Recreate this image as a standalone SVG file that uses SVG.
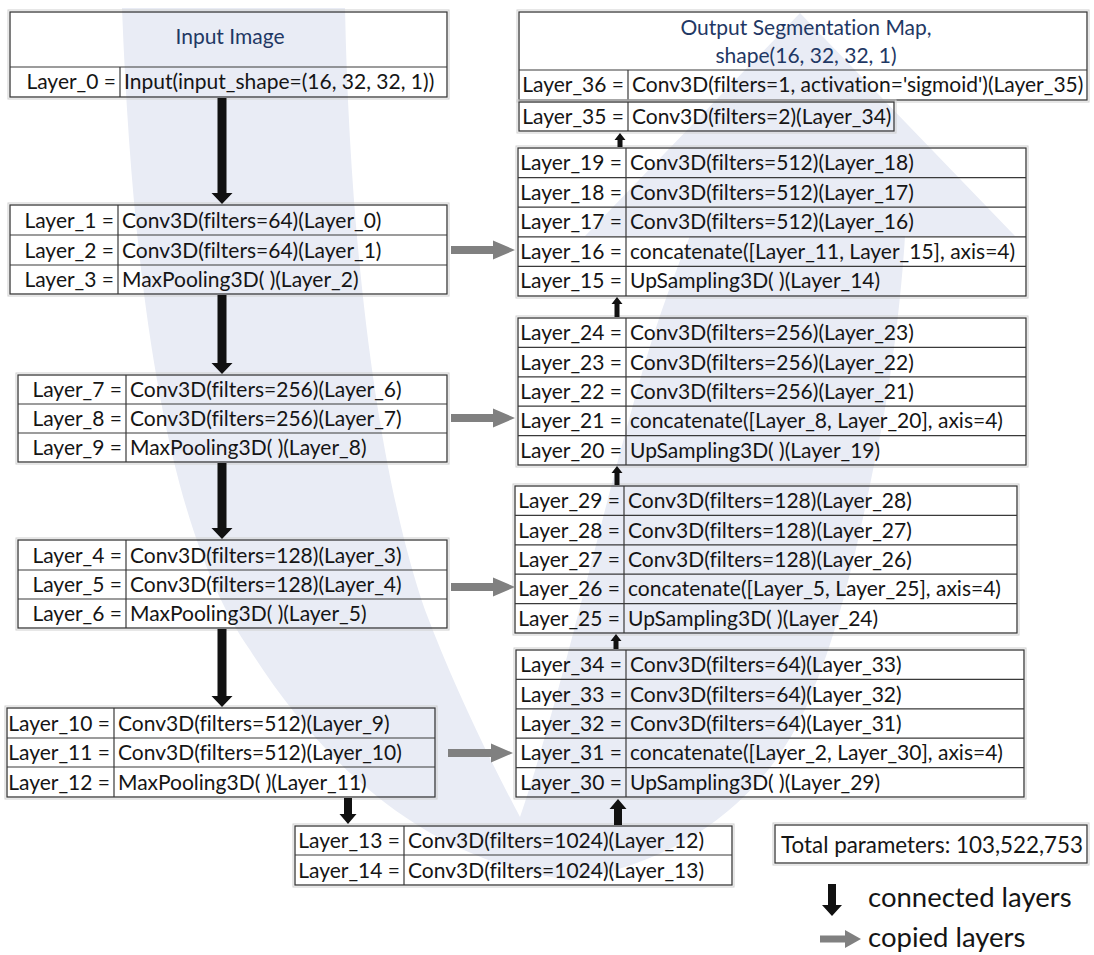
<svg xmlns="http://www.w3.org/2000/svg" width="1094" height="955" viewBox="0 0 1094 955">
<style>
text{font-variant-ligatures:none}
.t{font-family:Lato,"Open Sans","DejaVu Sans",sans-serif;font-size:21px;fill:#151515}
.l{text-anchor:end}
.h{font-family:Lato,"Open Sans","DejaVu Sans",sans-serif;font-size:21px;fill:#1f3864;text-anchor:middle}
.big{font-size:27.5px}
.box{fill:none;stroke:#3a3a3a;stroke-width:1.3}
.grid{fill:none;stroke:#cfcfcf;stroke-width:1}
.ln{stroke:#3a3a3a;stroke-width:1.2}
.blk{fill:#111}
.gry{fill:#808080}
</style>
<rect width="1094" height="955" fill="#ffffff"/>
<path id="u-shape" d="M122,8 L345,8 C350,260 380,480 425,610 C455,690 495,770 520,817 C560,700 600,520 640,380 C660,310 680,260 690,236 L585,236 L800,13 L1015,236 L905,236 C900,320 885,420 873,470 C855,560 835,640 813,690 C780,780 700,860 570,880 C420,860 320,760 250,650 C180,550 135,350 122,8 Z" fill="#e9ecf5"/>

<g id="input">
<rect class="grid" x="8" y="10" width="441" height="89"/>
<rect class="box" x="10" y="12" width="437" height="85"/>
<line class="ln" x1="10" y1="67" x2="447" y2="67"/>
<line class="ln" x1="120" y1="67" x2="120" y2="97"/>
<text class="h" x="230" y="44">Input Image</text>
<text class="t l" x="116" y="89">Layer_0 =</text>
<text class="t" x="124" y="89">Input(input_shape=(16, 32, 32, 1))</text>
</g>

<g id="enc1">
<rect class="grid" x="8" y="203" width="441" height="93"/>
<rect class="box" x="10" y="205" width="437" height="89"/>
<line class="ln" x1="10" y1="235" x2="447" y2="235"/>
<line class="ln" x1="10" y1="265" x2="447" y2="265"/>
<line class="ln" x1="118" y1="205" x2="118" y2="294"/>
<text class="t l" x="114" y="228">Layer_1 =</text><text class="t" x="122" y="228">Conv3D(filters=64)(Layer_0)</text>
<text class="t l" x="114" y="258">Layer_2 =</text><text class="t" x="122" y="258">Conv3D(filters=64)(Layer_1)</text>
<text class="t l" x="114" y="287">Layer_3 =</text><text class="t" x="122" y="287">MaxPooling3D( )(Layer_2)</text>
</g>

<g id="enc3">
<rect class="grid" x="16" y="373" width="433" height="91"/>
<rect class="box" x="18" y="375" width="429" height="87"/>
<line class="ln" x1="18" y1="404" x2="447" y2="404"/>
<line class="ln" x1="18" y1="433" x2="447" y2="433"/>
<line class="ln" x1="126" y1="375" x2="126" y2="462"/>
<text class="t l" x="122" y="397">Layer_7 =</text><text class="t" x="130" y="397">Conv3D(filters=256)(Layer_6)</text>
<text class="t l" x="122" y="426">Layer_8 =</text><text class="t" x="130" y="426">Conv3D(filters=256)(Layer_7)</text>
<text class="t l" x="122" y="455">Layer_9 =</text><text class="t" x="130" y="455">MaxPooling3D( )(Layer_8)</text>
</g>

<g id="enc2">
<rect class="grid" x="16" y="538" width="433" height="92"/>
<rect class="box" x="18" y="540" width="429" height="88"/>
<line class="ln" x1="18" y1="570" x2="447" y2="570"/>
<line class="ln" x1="18" y1="599" x2="447" y2="599"/>
<line class="ln" x1="126" y1="540" x2="126" y2="628"/>
<text class="t l" x="122" y="563">Layer_4 =</text><text class="t" x="130" y="563">Conv3D(filters=128)(Layer_3)</text>
<text class="t l" x="122" y="592">Layer_5 =</text><text class="t" x="130" y="592">Conv3D(filters=128)(Layer_4)</text>
<text class="t l" x="122" y="621">Layer_6 =</text><text class="t" x="130" y="621">MaxPooling3D( )(Layer_5)</text>
</g>

<g id="enc4">
<rect class="grid" x="5" y="706" width="432" height="93"/>
<rect class="box" x="7" y="708" width="428" height="89"/>
<line class="ln" x1="7" y1="738" x2="435" y2="738"/>
<line class="ln" x1="7" y1="767" x2="435" y2="767"/>
<line class="ln" x1="114" y1="708" x2="114" y2="797"/>
<text class="t l" x="110" y="731">Layer_10 =</text><text class="t" x="118" y="731">Conv3D(filters=512)(Layer_9)</text>
<text class="t l" x="110" y="760">Layer_11 =</text><text class="t" x="118" y="760">Conv3D(filters=512)(Layer_10)</text>
<text class="t l" x="110" y="790">Layer_12 =</text><text class="t" x="118" y="790">MaxPooling3D( )(Layer_11)</text>
</g>

<g id="bottleneck">
<rect class="grid" x="293" y="824" width="441" height="63"/>
<rect class="box" x="295" y="826" width="437" height="59"/>
<line class="ln" x1="295" y1="855" x2="732" y2="855"/>
<line class="ln" x1="404" y1="826" x2="404" y2="885"/>
<text class="t l" x="400" y="848">Layer_13 =</text><text class="t" x="408" y="848">Conv3D(filters=1024)(Layer_12)</text>
<text class="t l" x="400" y="878">Layer_14 =</text><text class="t" x="408" y="878">Conv3D(filters=1024)(Layer_13)</text>
</g>

<g id="output">
<rect class="grid" x="517" y="10" width="572" height="92"/>
<rect class="box" x="519" y="12" width="568" height="88"/>
<line class="ln" x1="519" y1="70" x2="1087" y2="70"/>
<line class="ln" x1="628" y1="70" x2="628" y2="100"/>
<text class="h" x="806" y="35">Output Segmentation Map,</text>
<text class="h" x="806" y="63">shape(16, 32, 32, 1)</text>
<text class="t l" x="624" y="92">Layer_36 =</text><text class="t" x="632" y="92">Conv3D(filters=1, activation='sigmoid')(Layer_35)</text>
</g>

<g id="layer35">
<rect class="grid" x="517" y="100" width="379" height="33"/>
<rect class="box" x="519" y="102" width="375" height="29"/>
<line class="ln" x1="628" y1="102" x2="628" y2="131"/>
<text class="t l" x="624" y="124">Layer_35 =</text><text class="t" x="632" y="124">Conv3D(filters=2)(Layer_34)</text>
</g>

<g id="dec1">
<rect class="grid" x="516" y="146" width="512" height="152"/>
<rect class="box" x="518" y="148" width="508" height="148"/>
<line class="ln" x1="518" y1="177.6" x2="1026" y2="177.6"/>
<line class="ln" x1="518" y1="207.2" x2="1026" y2="207.2"/>
<line class="ln" x1="518" y1="236.8" x2="1026" y2="236.8"/>
<line class="ln" x1="518" y1="266.4" x2="1026" y2="266.4"/>
<line class="ln" x1="626" y1="148" x2="626" y2="296"/>
<text class="t l" x="622" y="170">Layer_19 =</text><text class="t" x="630" y="170">Conv3D(filters=512)(Layer_18)</text>
<text class="t l" x="622" y="200">Layer_18 =</text><text class="t" x="630" y="200">Conv3D(filters=512)(Layer_17)</text>
<text class="t l" x="622" y="229">Layer_17 =</text><text class="t" x="630" y="229">Conv3D(filters=512)(Layer_16)</text>
<text class="t l" x="622" y="259">Layer_16 =</text><text class="t" x="630" y="259">concatenate([Layer_11, Layer_15], axis=4)</text>
<text class="t l" x="622" y="288">Layer_15 =</text><text class="t" x="630" y="288">UpSampling3D( )(Layer_14)</text>
</g>

<g id="dec2">
<rect class="grid" x="516" y="316" width="512" height="151"/>
<rect class="box" x="518" y="318" width="508" height="147"/>
<line class="ln" x1="518" y1="347.4" x2="1026" y2="347.4"/>
<line class="ln" x1="518" y1="376.8" x2="1026" y2="376.8"/>
<line class="ln" x1="518" y1="406.2" x2="1026" y2="406.2"/>
<line class="ln" x1="518" y1="435.6" x2="1026" y2="435.6"/>
<line class="ln" x1="626" y1="318" x2="626" y2="465"/>
<text class="t l" x="622" y="340">Layer_24 =</text><text class="t" x="630" y="340">Conv3D(filters=256)(Layer_23)</text>
<text class="t l" x="622" y="370">Layer_23 =</text><text class="t" x="630" y="370">Conv3D(filters=256)(Layer_22)</text>
<text class="t l" x="622" y="399">Layer_22 =</text><text class="t" x="630" y="399">Conv3D(filters=256)(Layer_21)</text>
<text class="t l" x="622" y="428">Layer_21 =</text><text class="t" x="630" y="428">concatenate([Layer_8, Layer_20], axis=4)</text>
<text class="t l" x="622" y="458">Layer_20 =</text><text class="t" x="630" y="458">UpSampling3D( )(Layer_19)</text>
</g>

<g id="dec3">
<rect class="grid" x="513" y="484" width="506" height="151"/>
<rect class="box" x="515" y="486" width="502" height="147"/>
<line class="ln" x1="515" y1="515.4" x2="1017" y2="515.4"/>
<line class="ln" x1="515" y1="544.8" x2="1017" y2="544.8"/>
<line class="ln" x1="515" y1="574.2" x2="1017" y2="574.2"/>
<line class="ln" x1="515" y1="603.6" x2="1017" y2="603.6"/>
<line class="ln" x1="624" y1="486" x2="624" y2="633"/>
<text class="t l" x="620" y="508">Layer_29 =</text><text class="t" x="628" y="508">Conv3D(filters=128)(Layer_28)</text>
<text class="t l" x="620" y="538">Layer_28 =</text><text class="t" x="628" y="538">Conv3D(filters=128)(Layer_27)</text>
<text class="t l" x="620" y="567">Layer_27 =</text><text class="t" x="628" y="567">Conv3D(filters=128)(Layer_26)</text>
<text class="t l" x="620" y="596">Layer_26 =</text><text class="t" x="628" y="596">concatenate([Layer_5, Layer_25], axis=4)</text>
<text class="t l" x="620" y="626">Layer_25 =</text><text class="t" x="628" y="626">UpSampling3D( )(Layer_24)</text>
</g>

<g id="dec4">
<rect class="grid" x="514" y="648" width="512" height="151"/>
<rect class="box" x="516" y="650" width="508" height="147"/>
<line class="ln" x1="516" y1="679.4" x2="1024" y2="679.4"/>
<line class="ln" x1="516" y1="708.8" x2="1024" y2="708.8"/>
<line class="ln" x1="516" y1="738.2" x2="1024" y2="738.2"/>
<line class="ln" x1="516" y1="767.6" x2="1024" y2="767.6"/>
<line class="ln" x1="626" y1="650" x2="626" y2="797"/>
<text class="t l" x="622" y="672">Layer_34 =</text><text class="t" x="630" y="672">Conv3D(filters=64)(Layer_33)</text>
<text class="t l" x="622" y="702">Layer_33 =</text><text class="t" x="630" y="702">Conv3D(filters=64)(Layer_32)</text>
<text class="t l" x="622" y="731">Layer_32 =</text><text class="t" x="630" y="731">Conv3D(filters=64)(Layer_31)</text>
<text class="t l" x="622" y="760">Layer_31 =</text><text class="t" x="630" y="760">concatenate([Layer_2, Layer_30], axis=4)</text>
<text class="t l" x="622" y="790">Layer_30 =</text><text class="t" x="630" y="790">UpSampling3D( )(Layer_29)</text>
</g>

<g id="total">
<rect class="grid" x="773" y="823" width="316" height="42"/>
<rect class="box" x="775" y="825" width="312" height="38"/>
<text class="t" x="781" y="853" style="font-size:23px" textLength="302" lengthAdjust="spacingAndGlyphs">Total parameters: 103,522,753</text>
</g>

<g id="connectors">
<polygon class="blk" points="217.5,98 226.5,98 226.5,193 232.5,193 222,204 211.5,193 217.5,193"/>
<polygon class="blk" points="217.5,295 226.5,295 226.5,363 232.5,363 222,374 211.5,363 217.5,363"/>
<polygon class="blk" points="217.5,463 226.5,463 226.5,528 232.5,528 222,539 211.5,528 217.5,528"/>
<polygon class="blk" points="217.5,629 226.5,629 226.5,696 232.5,696 222,707 211.5,696 217.5,696"/>
<polygon class="blk" points="344,798 352,798 352,814 356.5,814 348,824 339.5,814 344,814"/>
<polygon class="blk" points="614,825 622,825 622,809 626.5,809 618,799 609.5,809 614,809"/>
<polygon class="blk" points="613.5,649 618.5,649 618.5,641 621.5,641 616,634 610.5,641 613.5,641"/>
<polygon class="blk" points="614.5,485 619.5,485 619.5,473 622.5,473 617,466 611.5,473 614.5,473"/>
<polygon class="blk" points="614.5,317 619.5,317 619.5,304 622.5,304 617,297 611.5,304 614.5,304"/>
<polygon class="blk" points="617.5,147 622.5,147 622.5,140 625.5,140 620,133 614.5,140 617.5,140"/>
<polygon class="gry" points="451,246 493,246 493,240.5 515,250 493,259.5 493,254 451,254"/>
<polygon class="gry" points="451,414 493,414 493,408.5 515,418 493,427.5 493,422 451,422"/>
<polygon class="gry" points="451,583 493,583 493,577.5 515,587 493,596.5 493,591 451,591"/>
<polygon class="gry" points="448,749 491,749 491,743.5 513,753 491,762.5 491,757 448,757"/>
</g>

<g id="legend">
<polygon class="blk" points="828,884 836,884 836,905 842,905 832,916 822,905 828,905"/>
<text class="t big" x="868" y="907">connected layers</text>
<polygon class="gry" points="820,935.5 845,935.5 845,930 861,939 845,948 845,942.5 820,942.5"/>
<text class="t big" x="868" y="947">copied layers</text>
</g>
</svg>
